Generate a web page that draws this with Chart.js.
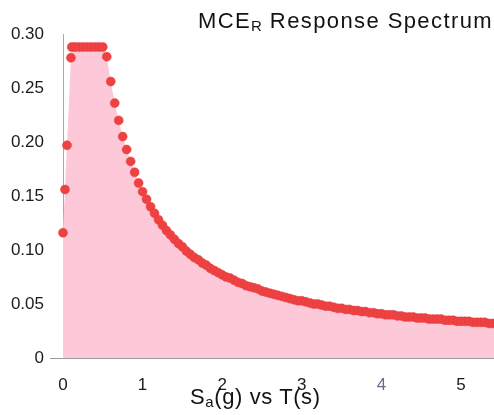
<!DOCTYPE html>
<html>
<head>
<meta charset="utf-8">
<script src="https://cdn.jsdelivr.net/npm/chart.js@4.4.1/dist/chart.umd.min.js"></script>
<style>
  html, body { margin: 0; padding: 0; background: #fff; }
  #wrap { position: relative; width: 494px; height: 415px; overflow: hidden; font-family: "Liberation Sans", Arial, sans-serif; }
  #c { position: absolute; left: 0; top: 0; }
  .lbl { position: absolute; color: #131313; white-space: nowrap; line-height: 22px; }
  .sub { font-size: 15px; position: relative; top: 3px; }
</style>
</head>
<body>
<div id="wrap">
  <canvas id="c" width="499" height="415"></canvas>
  <div class="lbl" id="title" style="right:1px; top:10px; font-size:22px; letter-spacing:1.4px;">MCE<span class="sub" style="letter-spacing:0.5px;">R</span> Response Spectrum</div>
  <div class="lbl" id="xlab" style="left:190px; top:386px; font-size:22px; letter-spacing:0.6px;">S<span class="sub">a</span>(g) vs T(s)</div>
</div>
<script>
// Period T (s)
const periods = [
  0, 0.025, 0.05, 0.1, 0.11, 0.15, 0.2, 0.25, 0.3, 0.35, 0.4, 0.45, 0.5,
  0.55, 0.6, 0.65, 0.7, 0.75, 0.8, 0.85, 0.9, 0.95, 1.0,
  1.05, 1.1, 1.15, 1.2, 1.25, 1.3, 1.35, 1.4, 1.45, 1.5,
  1.55, 1.6, 1.65, 1.7, 1.75, 1.8, 1.85, 1.9, 1.95, 2.0,
  2.05, 2.1, 2.15, 2.2, 2.25, 2.3, 2.35, 2.4, 2.45, 2.5,
  2.55, 2.6, 2.65, 2.7, 2.75, 2.8, 2.85, 2.9, 2.95, 3.0,
  3.05, 3.1, 3.15, 3.2, 3.25, 3.3, 3.35, 3.4, 3.45, 3.5,
  3.55, 3.6, 3.65, 3.7, 3.75, 3.8, 3.85, 3.9, 3.95, 4.0,
  4.05, 4.1, 4.15, 4.2, 4.25, 4.3, 4.35, 4.4, 4.45, 4.5,
  4.55, 4.6, 4.65, 4.7, 4.75, 4.8, 4.85, 4.9, 4.95, 5.0,
  5.05, 5.1, 5.15, 5.2, 5.25, 5.3, 5.35, 5.4, 5.45
];
// Spectral acceleration Sa (g)
const sa = [
  0.116, 0.156, 0.197, 0.278, 0.288, 0.288, 0.288, 0.288, 0.288, 0.288, 0.288, 0.288, 0.288,
  0.279, 0.256, 0.236, 0.220, 0.205, 0.193, 0.182, 0.172, 0.162, 0.154,
  0.147, 0.140, 0.134, 0.128, 0.123, 0.118, 0.114, 0.110, 0.106, 0.103,
  0.099, 0.096, 0.093, 0.091, 0.088, 0.086, 0.083, 0.081, 0.079, 0.077,
  0.075, 0.074, 0.072, 0.070, 0.069, 0.067, 0.066, 0.065, 0.064, 0.062,
  0.061, 0.060, 0.059, 0.058, 0.057, 0.056, 0.055, 0.054, 0.053, 0.053,
  0.052, 0.051, 0.050, 0.050, 0.049, 0.048, 0.048, 0.047, 0.046, 0.046,
  0.045, 0.045, 0.044, 0.044, 0.043, 0.043, 0.042, 0.042, 0.041, 0.041,
  0.040, 0.040, 0.040, 0.039, 0.039, 0.038, 0.038, 0.038, 0.037, 0.037,
  0.037, 0.036, 0.036, 0.036, 0.036, 0.035, 0.035, 0.035, 0.034, 0.034,
  0.034, 0.034, 0.033, 0.033, 0.033, 0.033, 0.032, 0.032, 0.032
];
const xTicks = [0, 1, 2, 3, 4, 5];
const yTicks = [0, 0.05, 0.10, 0.15, 0.20, 0.25, 0.30];

const points = periods.map((t, i) => ({ x: t, y: sa[i] }));

new Chart(document.getElementById('c'), {
  type: 'line',
  data: {
    datasets: [{
      data: points,
      fill: 'origin',
      backgroundColor: 'rgb(253, 200, 216)',
      borderColor: 'rgba(0,0,0,0)',
      borderWidth: 0,
      tension: 0,
      pointRadius: 4.5,
      pointBackgroundColor: 'rgb(238, 66, 66)',
      pointBorderColor: 'rgb(228, 58, 58)',
      pointBorderWidth: 0.5,
      clip: 6
    }]
  },
  options: {
    responsive: false,
    animation: false,
    layout: { padding: { top: 34, right: 0, left: 0, bottom: 0 } },
    plugins: { legend: { display: false }, tooltip: { enabled: false }, title: { display: false } },
    scales: {
      x: {
        type: 'linear',
        min: 0,
        max: 5.415,
        afterFit: s => { s.height = 57; },
        afterBuildTicks: s => { s.ticks = xTicks.map(v => ({ value: v })); },
        ticks: {
          includeBounds: false,
          padding: 9,
          font: { family: '"Liberation Sans", Arial, sans-serif', size: 17 },
          color: ctx => (ctx.tick && ctx.tick.value === 4) ? '#6a6c86' : '#1a1a1a'
        },
        grid: { display: false },
        border: { display: true, color: '#9a9a9a', width: 1 }
      },
      y: {
        type: 'linear',
        min: 0,
        max: 0.30,
        afterFit: s => { s.width = 63; },
        afterBuildTicks: s => { s.ticks = yTicks.map(v => ({ value: v })); },
        ticks: {
          padding: 6,
          font: { family: '"Liberation Sans", Arial, sans-serif', size: 17 },
          color: '#1a1a1a',
          callback: v => v === 0 ? '0' : Number(v).toFixed(2)
        },
        grid: {
          display: true,
          drawOnChartArea: false,
          drawTicks: true,
          tickLength: 13,
          color: ctx => (ctx.tick && ctx.tick.value === 0) ? '#9a9a9a' : 'rgba(0,0,0,0)'
        },
        border: { display: true, color: '#a8a8a8', width: 1 }
      }
    }
  }
});
</script>
</body>
</html>
